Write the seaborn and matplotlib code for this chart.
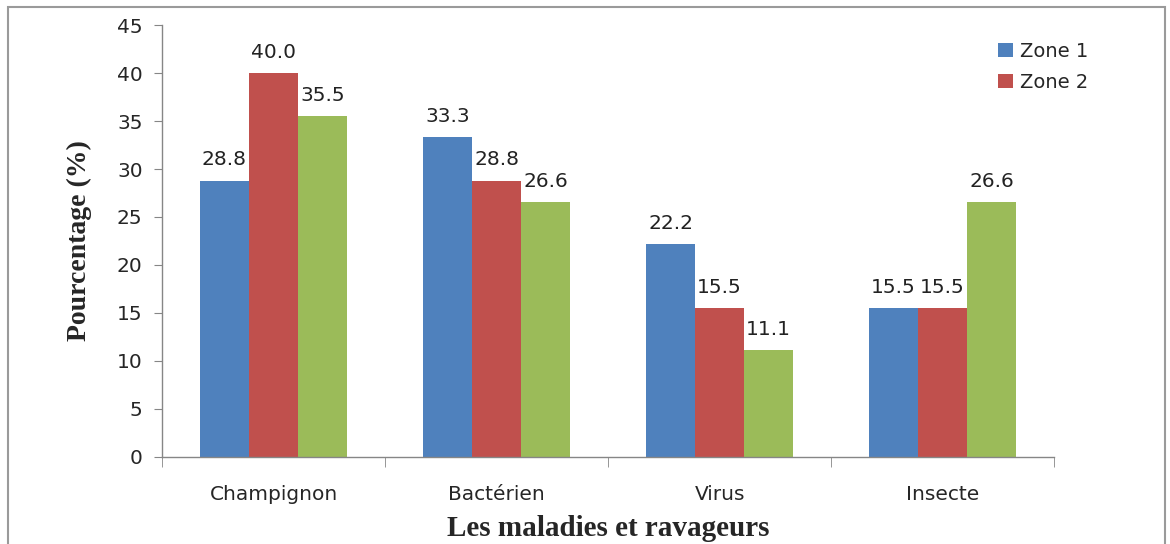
import pandas as pd
import matplotlib
matplotlib.use("Agg")
import matplotlib.pyplot as plt
import seaborn as sns
from matplotlib.patches import Rectangle

# Données
categories = ['Champignon', 'Bactérien', 'Virus', 'Insecte']
zones = ['Zone 1', 'Zone 2', 'Zone 3']
zone1 = [28.8, 33.3, 22.2, 15.5]
zone2 = [40.0, 28.8, 15.5, 15.5]
zone3 = [35.5, 26.6, 11.1, 26.6]
y_ticks = [0, 5, 10, 15, 20, 25, 30, 35, 40, 45]

df = pd.DataFrame({
    'Categorie': categories * 3,
    'Zone': [z for z in zones for _ in categories],
    'Valeur': zone1 + zone2 + zone3,
})

couleurs = ['#4F81BD', '#C0504D', '#9BBB59']

sns.set_style("white")
plt.rcParams['font.family'] = ['DejaVu Sans']

fig = plt.figure(figsize=(11.7, 5.44), dpi=100)
ax = fig.add_axes([0.1385, 0.160, 0.7625, 0.794])

sns.barplot(data=df, x='Categorie', y='Valeur', hue='Zone', palette=couleurs,
            width=0.66, saturation=1, linewidth=0, ax=ax, legend=True)

# Étiquettes de valeurs
for cont in ax.containers:
    ax.bar_label(cont, fmt='%.1f', padding=8, fontsize=14.5, color='#222222')

ax.set_ylim(0, 45)
ax.set_xlim(-0.5, 3.5)
ax.set_yticks(y_ticks)
ax.set_xticks([-0.5, 0.5, 1.5, 2.5, 3.5], minor=True)
ax.tick_params(axis='x', which='major', length=0, labelsize=14.5, pad=20)
ax.tick_params(axis='x', which='minor', bottom=True, length=7, color='#868686',
               direction='out')
ax.tick_params(axis='y', left=True, length=6, color='#868686', labelsize=14.5,
               direction='out', pad=8)

for s in ['top', 'right']:
    ax.spines[s].set_visible(False)
for s in ['left', 'bottom']:
    ax.spines[s].set_color('#868686')
    ax.spines[s].set_linewidth(1)

ax.set_xlabel('Les maladies et ravageurs', fontsize=21, fontweight='bold',
              family='Liberation Serif', labelpad=8)
ax.set_ylabel('Pourcentage (%)', fontsize=20, fontweight='bold',
              family='Liberation Serif', labelpad=18)

# Légende : seules Zone 1 et Zone 2 apparaissent
handles, labels = ax.get_legend_handles_labels()
ax.legend(handles[:2], labels[:2], loc='upper left', bbox_to_anchor=(0.838, 0.955),
          bbox_transform=fig.transFigure, frameon=False, fontsize=14,
          handlelength=0.75, handleheight=0.75, handletextpad=0.4, labelspacing=0.6)

# Cadre gris autour du graphique
fig.patches.append(Rectangle((0.007, -0.02), 0.989, 1.007, transform=fig.transFigure,
                             fill=False, edgecolor='#9a9a9a', linewidth=1.5))

fig.savefig('out.png', dpi=100)
